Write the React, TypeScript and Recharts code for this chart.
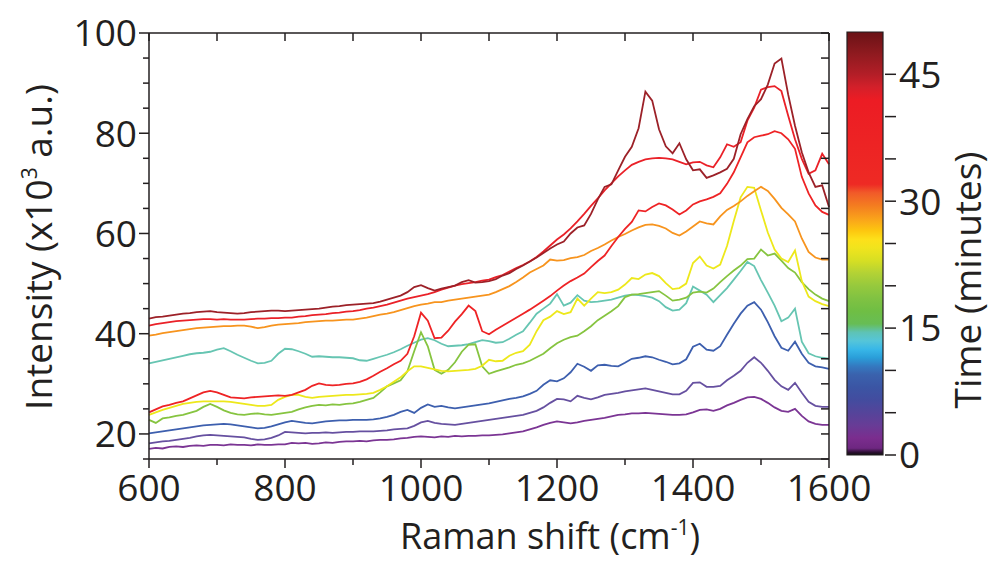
import React from 'react';
import { LineChart, Line, XAxis, YAxis, BarChart, Bar } from 'recharts';

// Raman shift axis (cm-1), sampled every 10
const RAMAN_SHIFT = [
  600, 610, 620, 630, 640, 650, 660, 670, 680, 690, 700, 710, 720, 730, 740, 750, 760, 770, 780, 790,
  800, 810, 820, 830, 840, 850, 860, 870, 880, 890, 900, 910, 920, 930, 940, 950, 960, 970, 980, 990,
  1000, 1010, 1020, 1030, 1040, 1050, 1060, 1070, 1080, 1090, 1100, 1110, 1120, 1130, 1140, 1150, 1160, 1170, 1180, 1190,
  1200, 1210, 1220, 1230, 1240, 1250, 1260, 1270, 1280, 1290, 1300, 1310, 1320, 1330, 1340, 1350, 1360, 1370, 1380, 1390,
  1400, 1410, 1420, 1430, 1440, 1450, 1460, 1470, 1480, 1490, 1500, 1510, 1520, 1530, 1540, 1550, 1560, 1570, 1580, 1590,
  1600,
];

// intensities (x10^3 a.u.), one spectrum per time point
const SPEC_T02 = [
  17.0, 17.2, 17.1, 17.4, 17.5, 17.4, 17.6, 17.7, 17.6, 17.8, 17.8, 17.7, 17.9, 17.8, 17.8, 17.7, 17.9, 17.8, 17.8, 17.9, 17.9,
  18.2, 18.1, 18.2, 18.0, 18.1, 18.3, 18.2, 18.4, 18.5, 18.5, 18.6, 18.5, 18.7, 18.8, 18.8, 18.9, 19.1, 19.2, 19.4, 19.5, 19.4, 19.3,
  19.5, 19.4, 19.6, 19.5, 19.6, 19.6, 19.7, 19.7, 19.8, 19.9, 20.1, 20.3, 20.5, 20.9, 21.3, 21.8, 22.2, 22.5, 22.3, 22.1, 22.3,
  22.6, 22.8, 23.0, 23.2, 23.5, 23.8, 23.9, 24.1, 24.1, 24.2, 24.1, 24.0, 23.9, 23.8, 23.8, 23.9, 24.3, 24.8, 24.9,
  24.6, 25.0, 25.7, 26.2, 26.8, 27.3, 27.4, 27.0, 26.2, 25.3, 24.6, 24.4, 25.0, 23.6, 22.5, 22.0, 21.8, 21.8,
];
const SPEC_T05 = [
  18.1, 18.3, 18.5, 18.6, 18.8, 19.0, 19.2, 19.5, 19.7, 19.8, 19.7, 19.6, 19.5, 19.4, 19.3, 19.0, 18.8, 18.9, 19.2, 19.7, 20.4,
  20.3, 20.2, 20.1, 20.2, 20.2, 20.3, 20.2, 20.3, 20.4, 20.4, 20.5, 20.5, 20.5, 20.6, 20.7, 20.9, 21.0, 21.1, 21.6, 22.3, 22.6, 22.2,
  22.0, 21.9, 21.8, 22.0, 22.2, 22.4, 22.6, 22.8, 23.0, 23.2, 23.4, 23.6, 23.8, 24.2, 24.6, 25.3, 26.2, 27.0, 26.9, 26.5, 27.6,
  27.2, 26.9, 27.3, 27.8, 28.0, 28.2, 28.5, 28.7, 28.9, 29.1, 28.8, 28.5, 28.2, 27.9, 27.9, 28.6, 30.2, 30.3, 29.4,
  29.4, 29.6, 30.7, 31.6, 32.6, 34.2, 35.3, 34.2, 32.6, 30.8, 29.5, 28.8, 30.2, 28.2, 26.4, 25.6, 25.4, 25.4,
];
const SPEC_T09 = [
  20.1, 20.3, 20.5, 20.7, 20.9, 21.1, 21.3, 21.5, 21.7, 21.8, 21.9, 22.0, 21.9, 21.7, 21.5, 21.3, 21.1, 21.2, 21.5, 21.9, 22.3,
  22.6, 22.4, 22.2, 22.1, 22.3, 22.5, 22.6, 22.7, 22.7, 22.8, 22.8, 22.8, 22.9, 23.1, 23.4, 23.8, 24.4, 24.8, 24.2, 25.2, 25.9, 25.4,
  25.6, 25.3, 25.1, 25.3, 25.5, 25.7, 25.9, 26.1, 26.4, 26.7, 27.0, 27.2, 27.5, 28.0, 28.6, 29.8, 30.7, 30.5, 31.1, 32.3, 34.0,
  33.4, 32.6, 33.7, 33.8, 33.6, 33.5, 34.2, 35.0, 35.2, 35.5, 35.3, 34.8, 34.4, 33.9, 34.1, 34.9, 37.4, 38.0, 36.8,
  36.6, 37.5, 39.8, 42.0, 44.0, 45.6, 46.3, 44.8, 42.3, 39.5, 37.2, 36.6, 38.4, 36.0, 34.2, 33.5, 33.3, 33.0,
];
const SPEC_T14 = [
  34.1, 34.4, 34.7, 35.0, 35.3, 35.6, 35.9, 36.1, 36.2, 36.4, 36.8, 37.1, 36.5, 35.8, 35.2, 34.6, 34.1, 34.2, 34.6, 36.0, 37.0,
  36.9, 36.5, 36.0, 35.4, 35.5, 35.4, 35.3, 35.3, 35.2, 35.1, 34.7, 34.6, 35.0, 35.4, 35.8, 36.3, 36.9, 37.6, 38.2, 38.8, 39.1, 38.7,
  38.0, 37.5, 37.6, 37.7, 37.9, 38.3, 38.7, 38.5, 38.2, 38.3, 39.0, 39.8, 40.5, 42.2, 44.0, 45.0, 46.0, 47.9, 45.6, 46.2, 47.7,
  46.6, 46.3, 46.4, 46.6, 46.8, 47.2, 47.6, 47.8, 47.7, 47.5, 47.2, 46.5, 45.3, 44.6, 44.8, 46.1, 49.4, 48.6, 47.8,
  46.3, 47.7, 49.1, 50.8, 52.5, 54.3, 53.5, 50.7, 48.2, 45.6, 42.5, 43.2, 45.0, 38.4, 36.1, 35.5, 35.2, 35.0,
];
const SPEC_T19 = [
  22.8, 22.2, 23.1, 23.3, 23.6, 23.8, 24.2, 24.6, 25.4, 26.0, 25.4, 24.7, 24.2, 23.9, 23.8, 24.0, 24.1, 23.9, 23.8, 24.0, 24.2,
  24.4, 24.9, 25.3, 25.6, 25.8, 25.7, 25.9, 25.8, 26.0, 26.1, 26.4, 26.8, 27.2, 28.3, 29.5, 30.1, 30.7, 32.5, 36.5, 40.3, 37.5, 32.8,
  32.0, 32.8, 34.3, 36.4, 37.8, 37.9, 33.5, 32.0, 32.5, 32.9, 33.3, 33.8, 34.1, 34.6, 35.3, 36.0, 37.1, 38.1, 38.8, 39.3, 39.6,
  40.5, 41.5, 42.7, 43.6, 44.5, 45.5, 47.3, 47.8, 47.9, 48.1, 48.3, 48.5, 47.6, 46.6, 46.8, 47.2, 48.2, 48.4, 48.2,
  49.0, 50.3, 51.5, 52.6, 53.6, 54.9, 55.0, 56.8, 55.6, 56.0, 54.6, 53.1, 52.2, 50.3, 48.9, 47.8, 47.0, 46.5,
];
const SPEC_T25 = [
  23.8, 24.3, 24.8, 25.2, 25.6, 26.0, 26.2, 26.4, 26.5, 26.5, 26.5, 26.5, 26.4, 26.2, 26.0, 25.8, 25.6, 25.6, 25.8, 26.8, 27.4,
  27.8, 27.8, 27.4, 27.2, 27.4, 27.5, 27.6, 27.7, 27.8, 27.8, 27.9, 28.0, 28.2, 28.8, 29.5, 30.4, 31.3, 32.5, 33.5, 33.5, 33.2, 32.9,
  32.6, 32.5, 32.6, 32.7, 32.8, 33.0, 33.6, 34.8, 34.5, 34.6, 35.6, 36.2, 36.5, 37.8, 40.5, 42.7, 43.4, 44.5, 43.9, 44.3, 47.0,
  45.6, 47.0, 48.3, 48.1, 48.3, 48.8, 49.8, 51.1, 50.9, 51.8, 52.1, 51.5, 50.1, 48.9, 49.1, 50.0, 54.1, 55.4, 53.6,
  53.0, 53.8, 57.5, 62.5, 67.2, 69.3, 69.1, 64.6, 60.2, 56.8, 55.0, 54.3, 56.6, 50.5, 47.4, 46.5, 45.9, 45.5,
];
const SPEC_T29 = [
  39.6, 39.8, 40.1, 40.3, 40.5, 40.7, 40.9, 41.1, 41.2, 41.3, 41.4, 41.5, 41.5, 41.6, 41.6, 41.4, 41.1, 41.3, 41.6, 41.8, 41.9,
  42.0, 42.1, 42.3, 42.4, 42.5, 42.6, 42.6, 42.7, 42.8, 42.8, 43.0, 43.2, 43.5, 43.8, 44.0, 44.3, 44.7, 45.1, 45.5, 45.8, 46.0, 46.3,
  46.3, 46.6, 46.8, 47.0, 47.2, 47.4, 47.6, 47.8, 48.3, 48.9, 49.5, 50.3, 51.2, 52.2, 52.9, 53.6, 54.8, 54.6, 54.7, 55.1, 55.3,
  55.7, 56.5, 57.1, 57.8, 58.6, 59.3, 59.9, 60.6, 61.2, 61.7, 61.8, 61.5, 61.0, 60.1, 59.6, 60.4, 61.4, 62.4, 62.0,
  61.8, 63.4, 64.7, 65.5, 66.4, 67.5, 68.4, 69.3, 68.5, 66.9, 65.1, 63.8, 62.4, 59.0, 56.3, 55.2, 54.8, 54.8,
];
const SPEC_T34 = [
  24.3, 24.9, 25.5, 25.8, 26.2, 26.5, 27.1, 27.7, 28.3, 28.6, 28.3, 27.8, 27.3, 27.2, 27.1, 27.3, 27.4, 27.5, 27.6, 27.7, 27.6,
  27.8, 28.3, 28.8, 29.6, 30.1, 29.8, 29.7, 29.8, 30.0, 30.1, 30.4, 30.9, 31.6, 32.4, 33.1, 33.9, 34.6, 36.0, 39.5, 44.2, 42.6, 39.1,
  39.2, 40.6, 42.4, 43.9, 45.6, 44.5, 40.5, 39.9, 40.8, 41.6, 42.4, 43.2, 44.0, 44.8, 45.7, 46.6, 47.5, 48.6, 49.6, 50.5, 51.2,
  52.0, 53.3, 54.5, 55.6, 57.5, 59.3, 60.9, 62.3, 64.6, 64.4, 65.3, 66.0, 65.6, 64.8, 63.8, 64.6, 65.8, 66.4, 66.8,
  67.3, 68.0, 69.9, 72.2, 75.2, 78.2, 79.2, 79.5, 79.8, 80.4, 80.0, 78.8, 76.9, 71.3, 68.0, 65.6, 64.3, 63.7,
];
const SPEC_T40 = [
  41.6, 41.9, 42.1, 42.3, 42.5, 42.6, 42.7, 42.8, 42.9, 42.9, 42.8, 42.9, 42.8, 42.8, 42.8, 42.9, 43.0, 43.0, 43.1, 43.1, 43.2,
  43.2, 43.4, 43.5, 43.7, 43.8, 43.9, 44.1, 44.2, 44.4, 44.5, 44.7, 45.0, 45.2, 45.5, 45.8, 46.2, 46.6, 47.0, 47.3, 47.6, 47.9, 48.3,
  48.8, 49.2, 49.6, 49.9, 50.1, 50.3, 50.6, 50.8, 51.3, 51.7, 52.4, 53.1, 53.7, 54.4, 55.3, 56.4, 57.6, 58.8, 59.8, 61.0, 62.4,
  63.9, 65.5, 67.0, 68.6, 70.0, 71.4, 72.6, 73.7, 74.3, 74.8, 75.0, 75.1, 75.0, 74.8, 74.3, 73.8, 74.2, 74.3, 73.6,
  73.2, 75.2, 77.8, 77.3, 78.2, 82.5, 85.1, 88.7, 89.2, 89.4, 88.4, 83.5, 78.8, 74.9, 71.9, 72.6, 75.9, 73.8,
];
const SPEC_T47 = [
  43.0, 43.3, 43.4, 43.6, 43.8, 44.0, 44.1, 44.3, 44.4, 44.5, 44.3, 44.2, 44.1, 44.0, 44.1, 44.3, 44.4, 44.5, 44.6, 44.6, 44.5,
  44.6, 44.7, 44.8, 44.9, 45.0, 45.2, 45.4, 45.5, 45.7, 45.8, 45.9, 46.0, 46.1, 46.4, 46.8, 47.2, 47.6, 48.3, 49.3, 49.7, 49.1, 48.6,
  49.0, 49.3, 49.6, 50.3, 50.7, 50.2, 50.3, 50.5, 50.9, 51.6, 52.1, 52.9, 53.6, 54.4, 55.2, 56.1, 57.0, 57.8, 58.4, 60.0, 61.2,
  61.6, 63.9, 66.8, 69.3, 69.8, 72.6, 75.3, 77.3, 81.0, 88.3, 86.5, 80.8, 77.4, 76.0, 78.0, 74.8, 72.6, 72.8, 71.1,
  71.6, 72.2, 72.9, 74.9, 79.8, 82.8, 85.4, 86.8, 89.7, 93.9, 94.9, 87.7, 81.5, 76.2, 72.2, 69.3, 69.6, 65.3,
];

const SERIES = [
  { key: 't02', values: SPEC_T02, color: '#7b3594' },
  { key: 't05', values: SPEC_T05, color: '#6650a0' },
  { key: 't09', values: SPEC_T09, color: '#3d5fae' },
  { key: 't14', values: SPEC_T14, color: '#66c5b2' },
  { key: 't19', values: SPEC_T19, color: '#86c440' },
  { key: 't25', values: SPEC_T25, color: '#ede81b' },
  { key: 't29', values: SPEC_T29, color: '#f7941e' },
  { key: 't34', values: SPEC_T34, color: '#ee2325' },
  { key: 't40', values: SPEC_T40, color: '#ea2128' },
  { key: 't47', values: SPEC_T47, color: '#9c2128' },
];

const X_TICKS = [600, 700, 800, 900, 1000, 1100, 1200, 1300, 1400, 1500, 1600];
const Y_TICKS = [15, 20, 25, 30, 35, 40, 45, 50, 55, 60, 65, 70, 75, 80, 85, 90, 95, 100];
const TIME_TICKS = [0, 5, 10, 15, 20, 25, 30, 35, 40, 45];

// colour bar stops: minutes -> colour
const TIME_STOPS = [50, 47.5, 45, 43.5, 42, 32, 31, 29.5, 28.5, 27.5, 26.5, 25.5, 24.5, 23, 21.5, 20, 18.5, 17, 15.5, 14.5, 13.5, 12.5, 11.5, 10.5, 9.5, 8, 6.5, 5, 3.5, 2, 0.8, 0.3, 0];
const TIME_COLORS = [
  '#6a1216', '#8e1a1f', '#b31e27', '#d3202a', '#ec1c24', '#ee2a24', '#f15a29', '#f47c20', '#f7941d', '#fbad18',
  '#fdc70f', '#fde01a', '#f1e41d', '#d7df23', '#b3d235', '#96c93d', '#80c242', '#6fbe44', '#67bd55', '#5ec3b5',
  '#55c5d9', '#38b7e8', '#2a9ed9', '#3479c0', '#3a62ad', '#3b55a4', '#434c9f', '#55449a', '#683c96', '#7b2d8e',
  '#6e2781', '#2a0f30', '#111111',
];

const FONT = '"Open Sans", sans-serif';
const INK = '#231f20';
const FS = 37;

const chartData = RAMAN_SHIFT.map((x, i) => {
  const row: Record<string, number> = { x };
  SERIES.forEach(s => { row[s.key] = s.values[i]; });
  return row;
});

const LeftTick = (props: any) => {
  const { x, y, payload } = props;
  const major = payload.value % 20 === 0;
  return (
    <g>
      <line x1={x - (major ? 10 : 6)} x2={x} y1={y} y2={y} stroke={INK} strokeWidth={1.5} />
      {major && (
        <text x={x - 12} y={y} dy="0.36em" textAnchor="end" fontSize={FS} fontFamily={FONT} fill={INK}>
          {payload.value}
        </text>
      )}
    </g>
  );
};

const RightTick = (props: any) => {
  const { x, y } = props;
  return <line x1={x - 8} x2={x} y1={y} y2={y} stroke={INK} strokeWidth={1.5} />;
};

const BottomTick = (props: any) => {
  const { x, y, payload } = props;
  const major = payload.value % 200 === 0;
  return (
    <g>
      <line x1={x} x2={x} y1={y} y2={y + (major ? 9 : 6)} stroke={INK} strokeWidth={1.5} />
      {major && (
        <text x={x} y={y + 42} textAnchor="middle" fontSize={FS} fontFamily={FONT} fill={INK}>
          {payload.value}
        </text>
      )}
    </g>
  );
};

const TopTick = (props: any) => {
  const { x, y } = props;
  return <line x1={x} x2={x} y1={y} y2={y + 8} stroke={INK} strokeWidth={1.5} />;
};

const TimeTick = (props: any) => {
  const { x, y, payload } = props;
  const major = payload.value % 15 === 0;
  return (
    <g>
      <line x1={x} x2={x + 11} y1={y} y2={y} stroke={INK} strokeWidth={1.5} />
      {major && (
        <text x={x + 14} y={y} dy="0.36em" textAnchor="start" fontSize={FS} fontFamily={FONT} fill={INK}>
          {payload.value}
        </text>
      )}
    </g>
  );
};

const axisLine = { stroke: INK, strokeWidth: 1.5 };

export default function App() {
  return (
    <div style={{ position: 'fixed', left: 0, top: 0, width: 995, height: 562, background: '#fff', overflow: 'hidden' }}>
      <div style={{ position: 'absolute', left: 0, top: 0 }}>
        {/* plot box: x 149..829, y 33..459 */}
        <LineChart width={995} height={562} data={chartData} margin={{ top: 23, right: 156, bottom: 73, left: 89 }}>
          <XAxis
            xAxisId="bottom"
            dataKey="x"
            type="number"
            domain={[600, 1600]}
            ticks={X_TICKS}
            interval={0}
            height={30}
            tickSize={0}
            tickMargin={0}
            tickLine={false}
            axisLine={axisLine}
            tick={<BottomTick />}
          />
          <XAxis
            xAxisId="top"
            orientation="top"
            dataKey="x"
            type="number"
            domain={[600, 1600]}
            ticks={X_TICKS}
            interval={0}
            height={10}
            tickSize={0}
            tickMargin={0}
            tickLine={false}
            axisLine={axisLine}
            tick={<TopTick />}
          />
          <YAxis
            yAxisId="left"
            type="number"
            domain={[15, 100]}
            ticks={Y_TICKS}
            interval={0}
            width={60}
            tickSize={0}
            tickMargin={0}
            tickLine={false}
            axisLine={axisLine}
            tick={<LeftTick />}
          />
          <YAxis
            yAxisId="right"
            orientation="right"
            type="number"
            domain={[15, 100]}
            ticks={Y_TICKS}
            interval={0}
            width={10}
            tickSize={0}
            tickMargin={0}
            tickLine={false}
            axisLine={axisLine}
            tick={<RightTick />}
          />
          {SERIES.map((s, i) => (
            <Line
              key={s.key}
              dataKey={s.key}
              xAxisId={i === SERIES.length - 1 ? 'top' : 'bottom'}
              yAxisId={i === SERIES.length - 1 ? 'right' : 'left'}
              stroke={s.color}
              strokeWidth={1.8}
              dot={false}
              activeDot={false}
              isAnimationActive={false}
            />
          ))}
        </LineChart>
      </div>

      <div style={{ position: 'absolute', left: 800, top: 0 }}>
        <BarChart width={195} height={562} data={[{ name: 'time', span: 50 }]} margin={{ top: 32, right: 0, bottom: 107, left: 45 }} barCategoryGap={0}>
          <defs>
            <linearGradient id="timeScale" x1="0" y1="0" x2="0" y2="1">
              {TIME_STOPS.map((m, i) => (
                <stop key={i} offset={`${(1 - m / 50) * 100}%`} stopColor={TIME_COLORS[i]} />
              ))}
            </linearGradient>
          </defs>
          <XAxis dataKey="name" hide />
          <YAxis
            orientation="right"
            type="number"
            domain={[0, 50]}
            ticks={TIME_TICKS}
            interval={0}
            width={110}
            tickSize={0}
            tickMargin={0}
            tickLine={false}
            axisLine={false}
            tick={<TimeTick />}
          />
          <Bar dataKey="span" fill="url(#timeScale)" stroke={INK} strokeWidth={1.2} barSize={40} isAnimationActive={false} />
        </BarChart>
      </div>

      <svg width={995} height={562} style={{ position: 'absolute', left: 0, top: 0, pointerEvents: 'none' }}>
        <text x={550} y={549} textAnchor="middle" fontSize={36} fontFamily={FONT} fill={INK}>
          Raman shift (cm<tspan dy={-14} fontSize={21}>-1</tspan><tspan dy={14}>)</tspan>
        </text>
        <text x={52} y={247} transform="rotate(-90 52 247)" textAnchor="middle" fontSize={FS} fontFamily={FONT} fill={INK}>
          Intensity (x10<tspan dy={-15} fontSize={21}>3</tspan><tspan dy={15}> a.u.)</tspan>
        </text>
        <text x={981} y={280} transform="rotate(-90 981 280)" textAnchor="middle" fontSize={FS} fontFamily={FONT} fill={INK}>
          Time (minutes)
        </text>
      </svg>
    </div>
  );
}
